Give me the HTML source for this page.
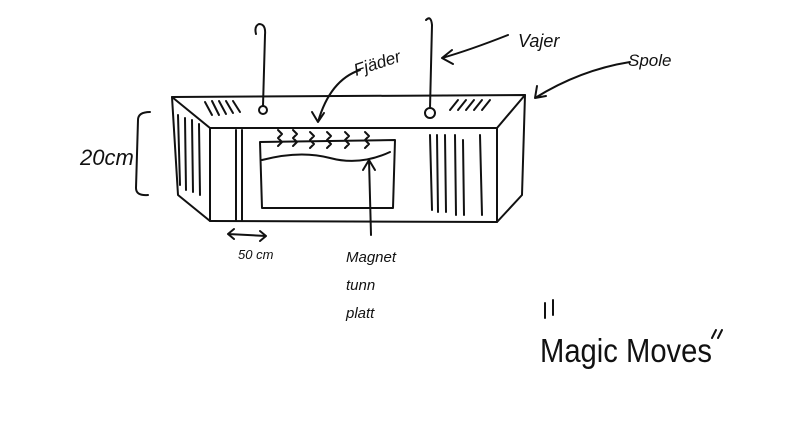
<!DOCTYPE html>
<html><head><meta charset="utf-8"><style>
html,body{margin:0;padding:0;background:#fff;}
svg{display:block}
text{font-family:"Liberation Sans",sans-serif;fill:#111;}
</style></head><body>
<svg width="796" height="448" viewBox="0 0 796 448" xmlns="http://www.w3.org/2000/svg">
<rect width="796" height="448" fill="#fff"/>
<g stroke="#111" stroke-width="2" fill="none" stroke-linecap="round" stroke-linejoin="round">
<path d="M172 97 L525 95 L497 128 L210 128 Z"/>
<path d="M172 97 L178 195 L210 221 L210 128"/>
<path d="M210 221 L497 222 L497 128"/>
<path d="M525 95 L522 195 L497 222"/>
<path d="M260 142 L395 140 L393 208 L262 208 Z"/>
<path d="M262 160 Q300 150 330 158 T390 152"/>
<path d="M178 115 L180 185 M185 118 L186 190 M192 120 L193 192 M199 124 L200 195 M236 130 L236 220 M242 130 L242 220"/>
<path d="M430 135 L432 210 M437 135 L438 212 M445 135 L446 212 M455 135 L456 215 M463 140 L464 215 M480 135 L482 215"/>
<path d="M205 102 L212 115 M212 101 L219 115 M219 101 L226 114 M226 101 L233 113 M233 101 L240 112"/>
<path d="M450 110 L458 100 M458 110 L466 100 M466 110 L474 100 M474 110 L482 100 M482 110 L490 100"/>
<circle cx="263" cy="110" r="4"/>
<circle cx="430" cy="113" r="5"/>
<path d="M263 106 L265 35 Q266 24 259 24 Q254 26 256 34"/>
<path d="M430 108 L432 25 Q431 15 426 20"/>
<path d="M278 130 l4 4 l-4 4 l4 4 l-4 4 M293 130 l4 4 l-4 4 l4 4 l-4 4 M310 132 l4 4 l-4 4 l4 4 l-4 4 M327 132 l4 4 l-4 4 l4 4 l-4 4 M345 132 l4 4 l-4 4 l4 4 l-4 4 M365 132 l4 4 l-4 4 l4 4 l-4 4"/>
<path d="M360 70 Q330 80 318 122 M312 112 L318 122 L324 113"/>
<path d="M508 35 Q470 50 442 58 M452 50 L442 58 L453 64"/>
<path d="M630 62 Q580 70 535 98 M537 86 L535 98 L546 96"/>
<path d="M371 235 L369 160 M363 170 L369 160 L375 170"/>
<path d="M228 234 L266 236 M234 229 L228 234 L234 239 M260 231 L266 236 L260 241"/>
<path d="M150 112 Q138 112 138 120 L136 188 Q136 196 148 195"/>
<path d="M545 303 L545 318 M553 300 L553 315 M712 338 l4 -8 M718 338 l4 -8"/>
</g>
<g font-style="italic">
<text x="80" y="165" font-size="22">20cm</text>
<text x="238" y="259" font-size="13">50 cm</text>
<text x="356" y="76" font-size="17" transform="rotate(-18 356 76)">Fjäder</text>
<text x="518" y="47" font-size="18">Vajer</text>
<text x="628" y="66" font-size="17">Spole</text>
<text x="346" y="262" font-size="15">Magnet</text>
<text x="346" y="290" font-size="15">tunn</text>
<text x="346" y="318" font-size="15">platt</text>
</g>
<text x="540" y="362" font-size="33" textLength="172" lengthAdjust="spacingAndGlyphs">Magic Moves</text>
</svg>
</body></html>
